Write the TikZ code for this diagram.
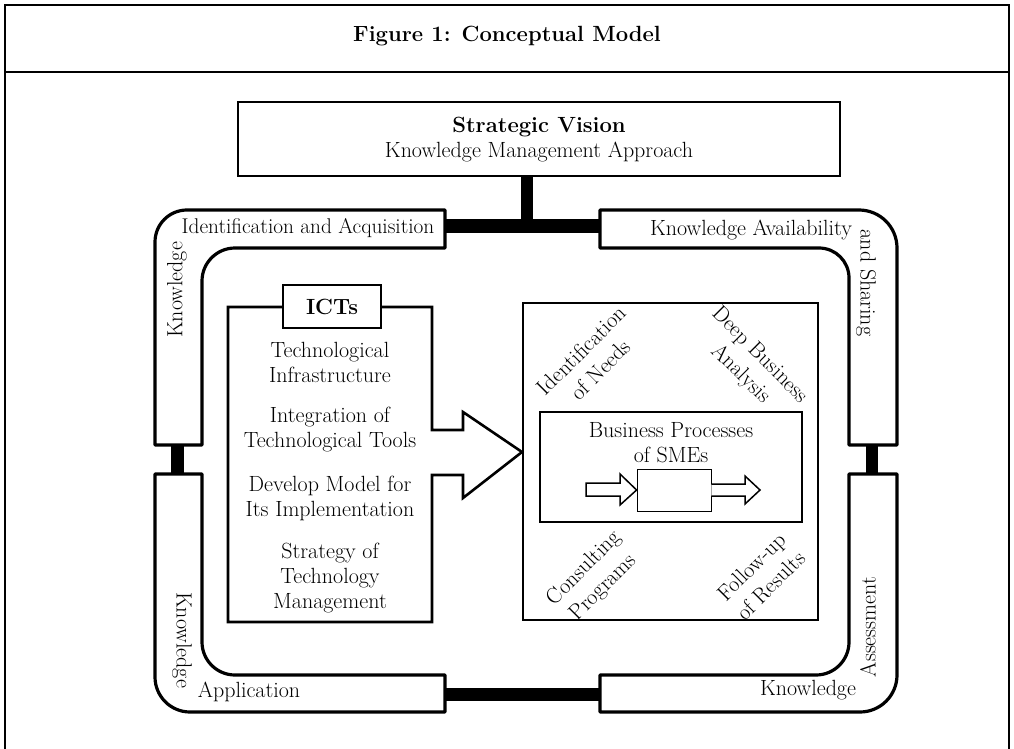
\documentclass[tikz,border=0pt]{standalone}
\usepackage{fontspec}
\begin{document}
\begin{tikzpicture}[x=1pt,y=-1pt,
  txt/.style={font=\fontsize{22}{25}\selectfont, inner sep=0pt, align=center},
  rtxt/.style={font=\fontsize{22}{27}\selectfont, inner sep=0pt, align=center},
  pipe/.style={draw, line width=3.2pt, fill=white, line join=round},
  bar/.style={draw, line cap=butt},
  box/.style={draw, line width=2.6pt},
  thinarrow/.style={draw, line width=1.5pt, fill=white, line join=miter},
]
\useasboundingbox (0,0) rectangle (1014,749);
% frame
\draw[line width=1.5pt] (5,749) -- (5,5) -- (1009,5) -- (1009,749);
\draw[line width=1.5pt] (5,72) -- (1009,72);
\node[txt, font=\fontsize{22}{25}\selectfont\bfseries] (title) at (507,36) {Figure 1: Conceptual Model};

% strategic vision
\node[box, minimum width=602pt, minimum height=74pt, inner sep=0pt] (sv) at (539,139) {};
\node[txt] (svt) at (539,127) {\textbf{Strategic Vision}};
\node[txt] (sva) at (539,152) {Knowledge Management Approach};

% connector coordinates
\coordinate (jTop) at (527,226);
\coordinate (tlR) at (440,226);
\coordinate (trL) at (605,226);
\coordinate (lUp) at (177,440);
\coordinate (lDn) at (177,479);
\coordinate (rUp) at (872,440);
\coordinate (rDn) at (872,479);
\coordinate (blR) at (440,694);
\coordinate (brL) at (605,694);

\draw[bar, line width=12pt] (sv.south -| jTop) -- (jTop);
\draw[bar, line width=14pt] (tlR) -- (trL);
\draw[bar, line width=13pt] (lUp) -- (lDn);
\draw[bar, line width=12pt] (rUp) -- (rDn);
\draw[bar, line width=13pt] (blR) -- (brL);

% pipes
\draw[pipe] (445,210) -- (187,210) .. controls (169.3,210) and (155,224.3) .. (155,242)
  -- (155,445) -- (202,445) -- (202,281) .. controls (202,262.8) and (216.8,248) .. (235,248)
  -- (445,248) -- cycle;
\draw[pipe] (600,210) -- (859,210) .. controls (880,210) and (897,227) .. (897,248)
  -- (897,445) -- (849,445) -- (849,278) .. controls (849,261.4) and (835.6,248) .. (819,248)
  -- (600,248) -- cycle;
\draw[pipe] (155,474) -- (155,677) .. controls (155,696.3) and (170.7,712) .. (190,712)
  -- (445,712) -- (445,675) -- (235,675) .. controls (216.8,675) and (202,660.2) .. (202,642)
  -- (202,474) -- cycle;
\draw[pipe] (600,675) -- (816,675) .. controls (834.2,675) and (849,660.2) .. (849,642)
  -- (849,474) -- (897,474) -- (897,675) .. controls (897,695.4) and (880.4,712) .. (860,712)
  -- (600,712) -- cycle;

% pipe labels
\node[txt, font=\fontsize{21.3}{25}\selectfont] (tlh) at (308,228) {Identification and Acquisition};
\node[txt, rotate=90] (tlv) at (177,290) {Knowledge};
\node[txt] (trh) at (751,230) {Knowledge Availability};
\node[txt, rotate=-90] (trv) at (866,283) {and Sharing};
\node[txt, rotate=-90] (blv) at (182,640) {Knowledge};
\node[txt] (blh) at (249,692) {Application};
\node[txt] (brh) at (808,690) {Knowledge};
\node[txt, rotate=90] (brv) at (868,627) {Assessment};

% ICT box with big arrow
\draw[box, line join=miter] (432,430) -- (463,430) -- (463,412) -- (522,452) -- (463,498)
  -- (463,475) -- (432,475) -- (432,622) -- (228,622) -- (228,307) -- (432,307) -- cycle;
\node[box, fill=white, minimum width=98pt, minimum height=43pt, txt, inner sep=0pt] (ict) at (332,306.5) {\textbf{ICTs}};
\node[txt] (i1) at (330,362) {Technological\\Infrastructure};
\node[txt] (i2) at (330,430) {Integration of\\Technological Tools};
\node[txt] (i3) at (330,498) {Develop Model for\\Its Implementation};
\node[txt] (i4) at (330,578.5) {Strategy of\\Technology\\Management};

% right box
\node[box, minimum width=295pt, minimum height=317pt] (rb) at (670.5,461.5) {};
\node[box, minimum width=262pt, minimum height=110pt] (bp) at (671,467) {};
\node[txt] (bpt) at (671,430) {Business Processes};
\node[txt] (bps) at (671,455) {of SMEs};
\node[draw, line width=0.8pt, minimum width=74pt, minimum height=42pt] (sb) at (674,490) {};
\draw[thinarrow] (586,483) -- (620,483) -- (620,474) -- (sb.west) -- (620,505) -- (620,496) -- (586,496) -- cycle;
\draw[thinarrow] (sb.east |- 0,484) -- (745,484) -- (745,476) -- (760,490) -- (745,504) -- (745,496) -- (sb.east |- 0,496);

\node[rtxt, rotate=45] (idn) at (591,360) {Identification\\of Needs};
\node[rtxt, rotate=-45] (dba) at (750,365) {Deep Business\\Analysis};
\node[rtxt, rotate=45] (cp) at (594,578) {Consulting\\Programs};
\node[rtxt, rotate=45] (fr) at (761,576) {Follow-up\\of Results};
\end{tikzpicture}
\end{document}
